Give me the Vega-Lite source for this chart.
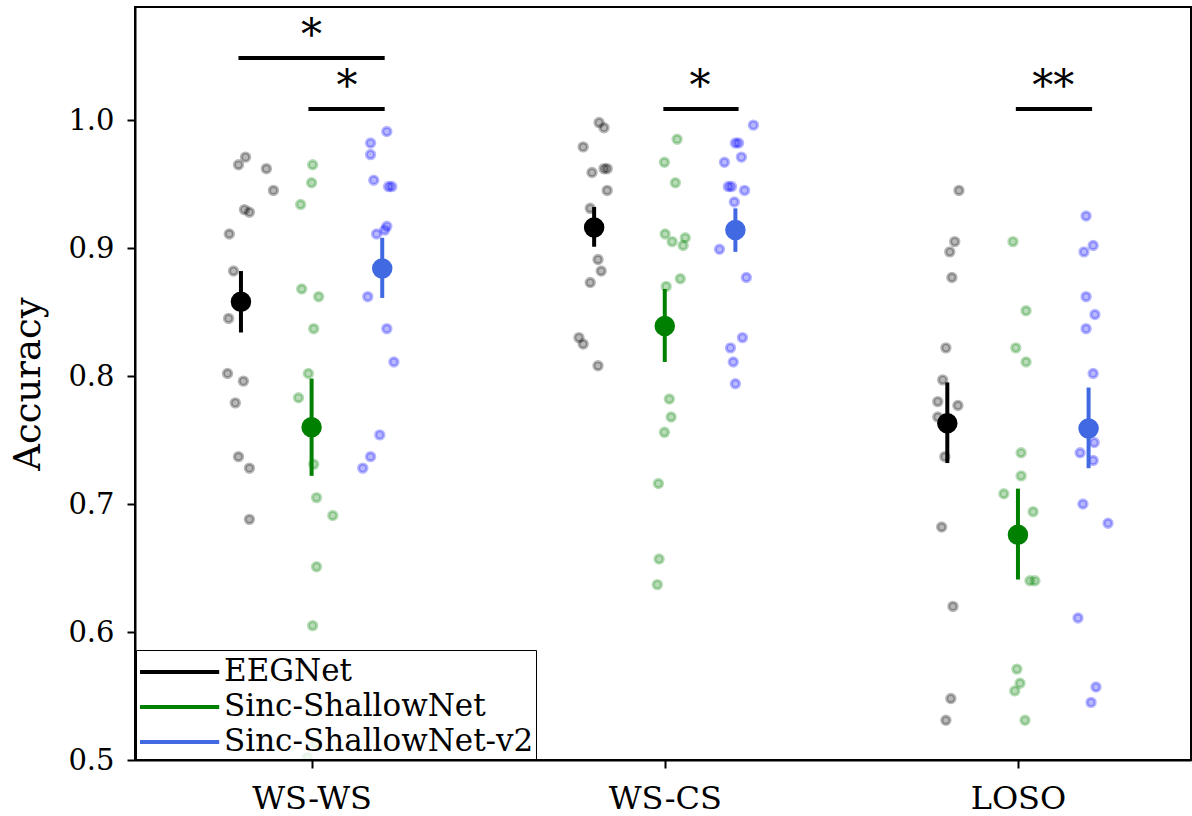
{
  "$schema": "https://vega.github.io/schema/vega-lite/v6.json",
  "width": 1056,
  "height": 753,
  "autosize": {"type": "none"},
  "padding": {"left": 135, "top": 7, "right": 1, "bottom": 56},
  "background": "white",
  "config": {
    "view": {"stroke": "black", "strokeWidth": 2},
    "font": "DejaVu Serif",
    "axis": {"domainColor": "black", "domainWidth": 2, "tickColor": "black", "tickWidth": 2, "tickSize": 8, "grid": false, "labelFont": "DejaVu Serif", "labelColor": "black", "titleFont": "DejaVu Serif", "titleFontSize": 37, "titleFontWeight": "normal", "titleColor": "black"}
  },
  "datasets": {
    "pts": [
      {"cond":"WS-WS","model":"EEGNet","x":-0.187,"acc":0.971},
      {"cond":"WS-WS","model":"EEGNet","x":-0.207,"acc":0.965},
      {"cond":"WS-WS","model":"EEGNet","x":-0.128,"acc":0.962},
      {"cond":"WS-WS","model":"EEGNet","x":-0.108,"acc":0.945},
      {"cond":"WS-WS","model":"EEGNet","x":-0.190,"acc":0.930},
      {"cond":"WS-WS","model":"EEGNet","x":-0.176,"acc":0.928},
      {"cond":"WS-WS","model":"EEGNet","x":-0.233,"acc":0.911},
      {"cond":"WS-WS","model":"EEGNet","x":-0.221,"acc":0.882},
      {"cond":"WS-WS","model":"EEGNet","x":-0.235,"acc":0.845},
      {"cond":"WS-WS","model":"EEGNet","x":-0.238,"acc":0.802},
      {"cond":"WS-WS","model":"EEGNet","x":-0.193,"acc":0.796},
      {"cond":"WS-WS","model":"EEGNet","x":-0.216,"acc":0.779},
      {"cond":"WS-WS","model":"EEGNet","x":-0.207,"acc":0.737},
      {"cond":"WS-WS","model":"EEGNet","x":-0.176,"acc":0.728},
      {"cond":"WS-WS","model":"EEGNet","x":-0.176,"acc":0.688},
      {"cond":"WS-WS","model":"Sinc-ShallowNet","x":0.003,"acc":0.965},
      {"cond":"WS-WS","model":"Sinc-ShallowNet","x":0.0,"acc":0.951},
      {"cond":"WS-WS","model":"Sinc-ShallowNet","x":-0.031,"acc":0.934},
      {"cond":"WS-WS","model":"Sinc-ShallowNet","x":-0.028,"acc":0.868},
      {"cond":"WS-WS","model":"Sinc-ShallowNet","x":0.020,"acc":0.862},
      {"cond":"WS-WS","model":"Sinc-ShallowNet","x":0.006,"acc":0.837},
      {"cond":"WS-WS","model":"Sinc-ShallowNet","x":-0.009,"acc":0.802},
      {"cond":"WS-WS","model":"Sinc-ShallowNet","x":-0.037,"acc":0.783},
      {"cond":"WS-WS","model":"Sinc-ShallowNet","x":0.006,"acc":0.731},
      {"cond":"WS-WS","model":"Sinc-ShallowNet","x":0.014,"acc":0.705},
      {"cond":"WS-WS","model":"Sinc-ShallowNet","x":0.060,"acc":0.691},
      {"cond":"WS-WS","model":"Sinc-ShallowNet","x":0.014,"acc":0.651},
      {"cond":"WS-WS","model":"Sinc-ShallowNet","x":0.003,"acc":0.605},
      {"cond":"WS-WS","model":"Sinc-ShallowNet","x":-0.012,"acc":0.502},
      {"cond":"WS-WS","model":"Sinc-ShallowNet","x":0.011,"acc":0.513},
      {"cond":"WS-WS","model":"Sinc-ShallowNet-v2","x":0.213,"acc":0.991},
      {"cond":"WS-WS","model":"Sinc-ShallowNet-v2","x":0.167,"acc":0.982},
      {"cond":"WS-WS","model":"Sinc-ShallowNet-v2","x":0.167,"acc":0.973},
      {"cond":"WS-WS","model":"Sinc-ShallowNet-v2","x":0.176,"acc":0.953},
      {"cond":"WS-WS","model":"Sinc-ShallowNet-v2","x":0.218,"acc":0.948},
      {"cond":"WS-WS","model":"Sinc-ShallowNet-v2","x":0.227,"acc":0.948},
      {"cond":"WS-WS","model":"Sinc-ShallowNet-v2","x":0.213,"acc":0.917},
      {"cond":"WS-WS","model":"Sinc-ShallowNet-v2","x":0.207,"acc":0.914},
      {"cond":"WS-WS","model":"Sinc-ShallowNet-v2","x":0.184,"acc":0.911},
      {"cond":"WS-WS","model":"Sinc-ShallowNet-v2","x":0.159,"acc":0.862},
      {"cond":"WS-WS","model":"Sinc-ShallowNet-v2","x":0.213,"acc":0.837},
      {"cond":"WS-WS","model":"Sinc-ShallowNet-v2","x":0.233,"acc":0.811},
      {"cond":"WS-WS","model":"Sinc-ShallowNet-v2","x":0.193,"acc":0.754},
      {"cond":"WS-WS","model":"Sinc-ShallowNet-v2","x":0.167,"acc":0.737},
      {"cond":"WS-WS","model":"Sinc-ShallowNet-v2","x":0.145,"acc":0.728},
      {"cond":"WS-CS","model":"EEGNet","x":0.814,"acc":0.998},
      {"cond":"WS-CS","model":"EEGNet","x":0.828,"acc":0.994},
      {"cond":"WS-CS","model":"EEGNet","x":0.769,"acc":0.979},
      {"cond":"WS-CS","model":"EEGNet","x":0.794,"acc":0.959},
      {"cond":"WS-CS","model":"EEGNet","x":0.828,"acc":0.962},
      {"cond":"WS-CS","model":"EEGNet","x":0.837,"acc":0.962},
      {"cond":"WS-CS","model":"EEGNet","x":0.837,"acc":0.945},
      {"cond":"WS-CS","model":"EEGNet","x":0.789,"acc":0.931},
      {"cond":"WS-CS","model":"EEGNet","x":0.811,"acc":0.891},
      {"cond":"WS-CS","model":"EEGNet","x":0.820,"acc":0.882},
      {"cond":"WS-CS","model":"EEGNet","x":0.789,"acc":0.873},
      {"cond":"WS-CS","model":"EEGNet","x":0.757,"acc":0.830},
      {"cond":"WS-CS","model":"EEGNet","x":0.769,"acc":0.825},
      {"cond":"WS-CS","model":"EEGNet","x":0.811,"acc":0.808},
      {"cond":"WS-CS","model":"EEGNet","x":0.800,"acc":0.915},
      {"cond":"WS-CS","model":"Sinc-ShallowNet","x":1.035,"acc":0.985},
      {"cond":"WS-CS","model":"Sinc-ShallowNet","x":0.999,"acc":0.967},
      {"cond":"WS-CS","model":"Sinc-ShallowNet","x":1.030,"acc":0.951},
      {"cond":"WS-CS","model":"Sinc-ShallowNet","x":1.001,"acc":0.911},
      {"cond":"WS-CS","model":"Sinc-ShallowNet","x":1.021,"acc":0.905},
      {"cond":"WS-CS","model":"Sinc-ShallowNet","x":1.058,"acc":0.908},
      {"cond":"WS-CS","model":"Sinc-ShallowNet","x":1.052,"acc":0.902},
      {"cond":"WS-CS","model":"Sinc-ShallowNet","x":1.044,"acc":0.876},
      {"cond":"WS-CS","model":"Sinc-ShallowNet","x":1.004,"acc":0.870},
      {"cond":"WS-CS","model":"Sinc-ShallowNet","x":1.013,"acc":0.782},
      {"cond":"WS-CS","model":"Sinc-ShallowNet","x":1.018,"acc":0.768},
      {"cond":"WS-CS","model":"Sinc-ShallowNet","x":0.999,"acc":0.756},
      {"cond":"WS-CS","model":"Sinc-ShallowNet","x":0.982,"acc":0.716},
      {"cond":"WS-CS","model":"Sinc-ShallowNet","x":0.984,"acc":0.657},
      {"cond":"WS-CS","model":"Sinc-ShallowNet","x":0.979,"acc":0.637},
      {"cond":"WS-CS","model":"Sinc-ShallowNet-v2","x":1.251,"acc":0.996},
      {"cond":"WS-CS","model":"Sinc-ShallowNet-v2","x":1.200,"acc":0.982},
      {"cond":"WS-CS","model":"Sinc-ShallowNet-v2","x":1.209,"acc":0.982},
      {"cond":"WS-CS","model":"Sinc-ShallowNet-v2","x":1.217,"acc":0.971},
      {"cond":"WS-CS","model":"Sinc-ShallowNet-v2","x":1.169,"acc":0.967},
      {"cond":"WS-CS","model":"Sinc-ShallowNet-v2","x":1.180,"acc":0.948},
      {"cond":"WS-CS","model":"Sinc-ShallowNet-v2","x":1.189,"acc":0.948},
      {"cond":"WS-CS","model":"Sinc-ShallowNet-v2","x":1.226,"acc":0.945},
      {"cond":"WS-CS","model":"Sinc-ShallowNet-v2","x":1.197,"acc":0.936},
      {"cond":"WS-CS","model":"Sinc-ShallowNet-v2","x":1.155,"acc":0.899},
      {"cond":"WS-CS","model":"Sinc-ShallowNet-v2","x":1.231,"acc":0.877},
      {"cond":"WS-CS","model":"Sinc-ShallowNet-v2","x":1.220,"acc":0.830},
      {"cond":"WS-CS","model":"Sinc-ShallowNet-v2","x":1.186,"acc":0.822},
      {"cond":"WS-CS","model":"Sinc-ShallowNet-v2","x":1.194,"acc":0.811},
      {"cond":"WS-CS","model":"Sinc-ShallowNet-v2","x":1.200,"acc":0.794},
      {"cond":"LOSO","model":"EEGNet","x":1.833,"acc":0.945},
      {"cond":"LOSO","model":"EEGNet","x":1.821,"acc":0.905},
      {"cond":"LOSO","model":"EEGNet","x":1.807,"acc":0.897},
      {"cond":"LOSO","model":"EEGNet","x":1.813,"acc":0.877},
      {"cond":"LOSO","model":"EEGNet","x":1.796,"acc":0.822},
      {"cond":"LOSO","model":"EEGNet","x":1.787,"acc":0.797},
      {"cond":"LOSO","model":"EEGNet","x":1.773,"acc":0.780},
      {"cond":"LOSO","model":"EEGNet","x":1.830,"acc":0.777},
      {"cond":"LOSO","model":"EEGNet","x":1.773,"acc":0.768},
      {"cond":"LOSO","model":"EEGNet","x":1.793,"acc":0.737},
      {"cond":"LOSO","model":"EEGNet","x":1.784,"acc":0.682},
      {"cond":"LOSO","model":"EEGNet","x":1.816,"acc":0.620},
      {"cond":"LOSO","model":"EEGNet","x":1.810,"acc":0.548},
      {"cond":"LOSO","model":"EEGNet","x":1.796,"acc":0.531},
      {"cond":"LOSO","model":"EEGNet","x":1.804,"acc":0.762},
      {"cond":"LOSO","model":"Sinc-ShallowNet","x":1.986,"acc":0.905},
      {"cond":"LOSO","model":"Sinc-ShallowNet","x":2.023,"acc":0.851},
      {"cond":"LOSO","model":"Sinc-ShallowNet","x":1.994,"acc":0.822},
      {"cond":"LOSO","model":"Sinc-ShallowNet","x":2.023,"acc":0.811},
      {"cond":"LOSO","model":"Sinc-ShallowNet","x":2.009,"acc":0.740},
      {"cond":"LOSO","model":"Sinc-ShallowNet","x":2.009,"acc":0.722},
      {"cond":"LOSO","model":"Sinc-ShallowNet","x":1.960,"acc":0.708},
      {"cond":"LOSO","model":"Sinc-ShallowNet","x":2.043,"acc":0.694},
      {"cond":"LOSO","model":"Sinc-ShallowNet","x":2.034,"acc":0.640},
      {"cond":"LOSO","model":"Sinc-ShallowNet","x":2.048,"acc":0.640},
      {"cond":"LOSO","model":"Sinc-ShallowNet","x":1.997,"acc":0.571},
      {"cond":"LOSO","model":"Sinc-ShallowNet","x":2.006,"acc":0.560},
      {"cond":"LOSO","model":"Sinc-ShallowNet","x":1.991,"acc":0.554},
      {"cond":"LOSO","model":"Sinc-ShallowNet","x":2.020,"acc":0.531},
      {"cond":"LOSO","model":"Sinc-ShallowNet-v2","x":2.193,"acc":0.925},
      {"cond":"LOSO","model":"Sinc-ShallowNet-v2","x":2.213,"acc":0.902},
      {"cond":"LOSO","model":"Sinc-ShallowNet-v2","x":2.187,"acc":0.897},
      {"cond":"LOSO","model":"Sinc-ShallowNet-v2","x":2.193,"acc":0.862},
      {"cond":"LOSO","model":"Sinc-ShallowNet-v2","x":2.218,"acc":0.848},
      {"cond":"LOSO","model":"Sinc-ShallowNet-v2","x":2.193,"acc":0.837},
      {"cond":"LOSO","model":"Sinc-ShallowNet-v2","x":2.213,"acc":0.802},
      {"cond":"LOSO","model":"Sinc-ShallowNet-v2","x":2.216,"acc":0.748},
      {"cond":"LOSO","model":"Sinc-ShallowNet-v2","x":2.176,"acc":0.740},
      {"cond":"LOSO","model":"Sinc-ShallowNet-v2","x":2.213,"acc":0.734},
      {"cond":"LOSO","model":"Sinc-ShallowNet-v2","x":2.184,"acc":0.700},
      {"cond":"LOSO","model":"Sinc-ShallowNet-v2","x":2.255,"acc":0.685},
      {"cond":"LOSO","model":"Sinc-ShallowNet-v2","x":2.170,"acc":0.611},
      {"cond":"LOSO","model":"Sinc-ShallowNet-v2","x":2.221,"acc":0.557},
      {"cond":"LOSO","model":"Sinc-ShallowNet-v2","x":2.207,"acc":0.545}
    ],
    "stats": [
      {"cond":"WS-WS","model":"EEGNet","x":-0.2,"mean":0.858,"lo":0.834,"hi":0.882},
      {"cond":"WS-WS","model":"Sinc-ShallowNet","x":0.0,"mean":0.760,"lo":0.722,"hi":0.798},
      {"cond":"WS-WS","model":"Sinc-ShallowNet-v2","x":0.2,"mean":0.884,"lo":0.861,"hi":0.908},
      {"cond":"WS-CS","model":"EEGNet","x":0.8,"mean":0.916,"lo":0.901,"hi":0.932},
      {"cond":"WS-CS","model":"Sinc-ShallowNet","x":1.0,"mean":0.839,"lo":0.811,"hi":0.868},
      {"cond":"WS-CS","model":"Sinc-ShallowNet-v2","x":1.2,"mean":0.914,"lo":0.897,"hi":0.931},
      {"cond":"LOSO","model":"EEGNet","x":1.8,"mean":0.763,"lo":0.732,"hi":0.795},
      {"cond":"LOSO","model":"Sinc-ShallowNet","x":2.0,"mean":0.676,"lo":0.641,"hi":0.712},
      {"cond":"LOSO","model":"Sinc-ShallowNet-v2","x":2.2,"mean":0.759,"lo":0.728,"hi":0.791}
    ],
    "sig": [
      {"x1":-0.207,"x2":0.207,"y":1.0484},
      {"x1":-0.009,"x2":0.207,"y":1.0086},
      {"x1":0.996,"x2":1.209,"y":1.0086},
      {"x1":1.994,"x2":2.210,"y":1.0086}
    ],
    "stars": [
      {"x":0.0,"y":1.0727,"label":"*"},
      {"x":0.1,"y":1.0328,"label":"*"},
      {"x":1.1,"y":1.0328,"label":"*"},
      {"x":2.1,"y":1.0328,"label":"**"}
    ]
  },
  "resolve": {"scale": {"color": "independent"}},
  "layer": [
    {
      "data": {"name": "pts"},
      "mark": {"type": "point", "filled": false, "shape": "circle", "size": 68, "strokeWidth": 3.2, "fillOpacity": 0.28, "strokeOpacity": 0.28, "opacity": 1, "clip": true},
      "encoding": {
        "x": {"field": "x", "type": "quantitative", "scale": {"domain": [-0.5, 2.49], "nice": false, "zero": false},
              "axis": {"title": null, "values": [0, 1, 2], "labelExpr": "datum.value == 0 ? 'WS-WS' : (datum.value == 1 ? 'WS-CS' : 'LOSO')", "labelPadding": 15, "labelFontSize": 32}},
        "y": {"field": "acc", "type": "quantitative", "scale": {"domain": [0.5, 1.0883], "nice": false, "zero": false},
              "axis": {"title": "Accuracy", "values": [0.5, 0.6, 0.7, 0.8, 0.9, 1.0], "format": ".1f", "labelPadding": 13, "labelFontSize": 29, "titlePadding": 20}},
        "fill": {"field": "model", "type": "nominal", "scale": {"domain": ["EEGNet", "Sinc-ShallowNet", "Sinc-ShallowNet-v2"], "range": ["#000000", "#008000", "#0000ff"]}, "legend": null},
        "stroke": {"field": "model", "type": "nominal", "scale": {"domain": ["EEGNet", "Sinc-ShallowNet", "Sinc-ShallowNet-v2"], "range": ["#000000", "#008000", "#0000ff"]}, "legend": null}
      }
    },
    {
      "data": {"name": "stats"},
      "mark": {"type": "rule", "strokeWidth": 4},
      "encoding": {
        "x": {"field": "x", "type": "quantitative"},
        "y": {"field": "lo", "type": "quantitative"},
        "y2": {"field": "hi"},
        "color": {"field": "model", "type": "nominal", "scale": {"domain": ["EEGNet", "Sinc-ShallowNet", "Sinc-ShallowNet-v2"], "range": ["#000000", "#008000", "#4169e1"]},
          "legend": {"orient": "bottom-left", "offset": 1, "title": null, "symbolType": "M-1,0H3.4", "symbolSize": 1296, "symbolStrokeWidth": 4, "labelFont": "DejaVu Serif", "labelFontSize": 31, "labelColor": "black", "strokeColor": "black", "fillColor": "rgba(255,255,255,0.8)", "padding": 2, "rowPadding": 0, "labelOffset": 46, "cornerRadius": 0, "labelLimit": 600}}
      }
    },
    {
      "data": {"name": "stats"},
      "mark": {"type": "circle", "size": 420, "opacity": 1},
      "encoding": {
        "x": {"field": "x", "type": "quantitative"},
        "y": {"field": "mean", "type": "quantitative"},
        "color": {"field": "model", "type": "nominal", "scale": {"domain": ["EEGNet", "Sinc-ShallowNet", "Sinc-ShallowNet-v2"], "range": ["#000000", "#008000", "#4169e1"]}, "legend": null}
      }
    },
    {
      "data": {"name": "sig"},
      "mark": {"type": "rule", "strokeWidth": 4, "color": "black"},
      "encoding": {
        "x": {"field": "x1", "type": "quantitative"},
        "x2": {"field": "x2"},
        "y": {"field": "y", "type": "quantitative"}
      }
    },
    {
      "data": {"name": "stars"},
      "mark": {"type": "text", "font": "DejaVu Serif", "fontSize": 42, "color": "black", "baseline": "middle", "align": "center", "dy": 9},
      "encoding": {
        "x": {"field": "x", "type": "quantitative"},
        "y": {"field": "y", "type": "quantitative"},
        "text": {"field": "label"}
      }
    }
  ]
}
